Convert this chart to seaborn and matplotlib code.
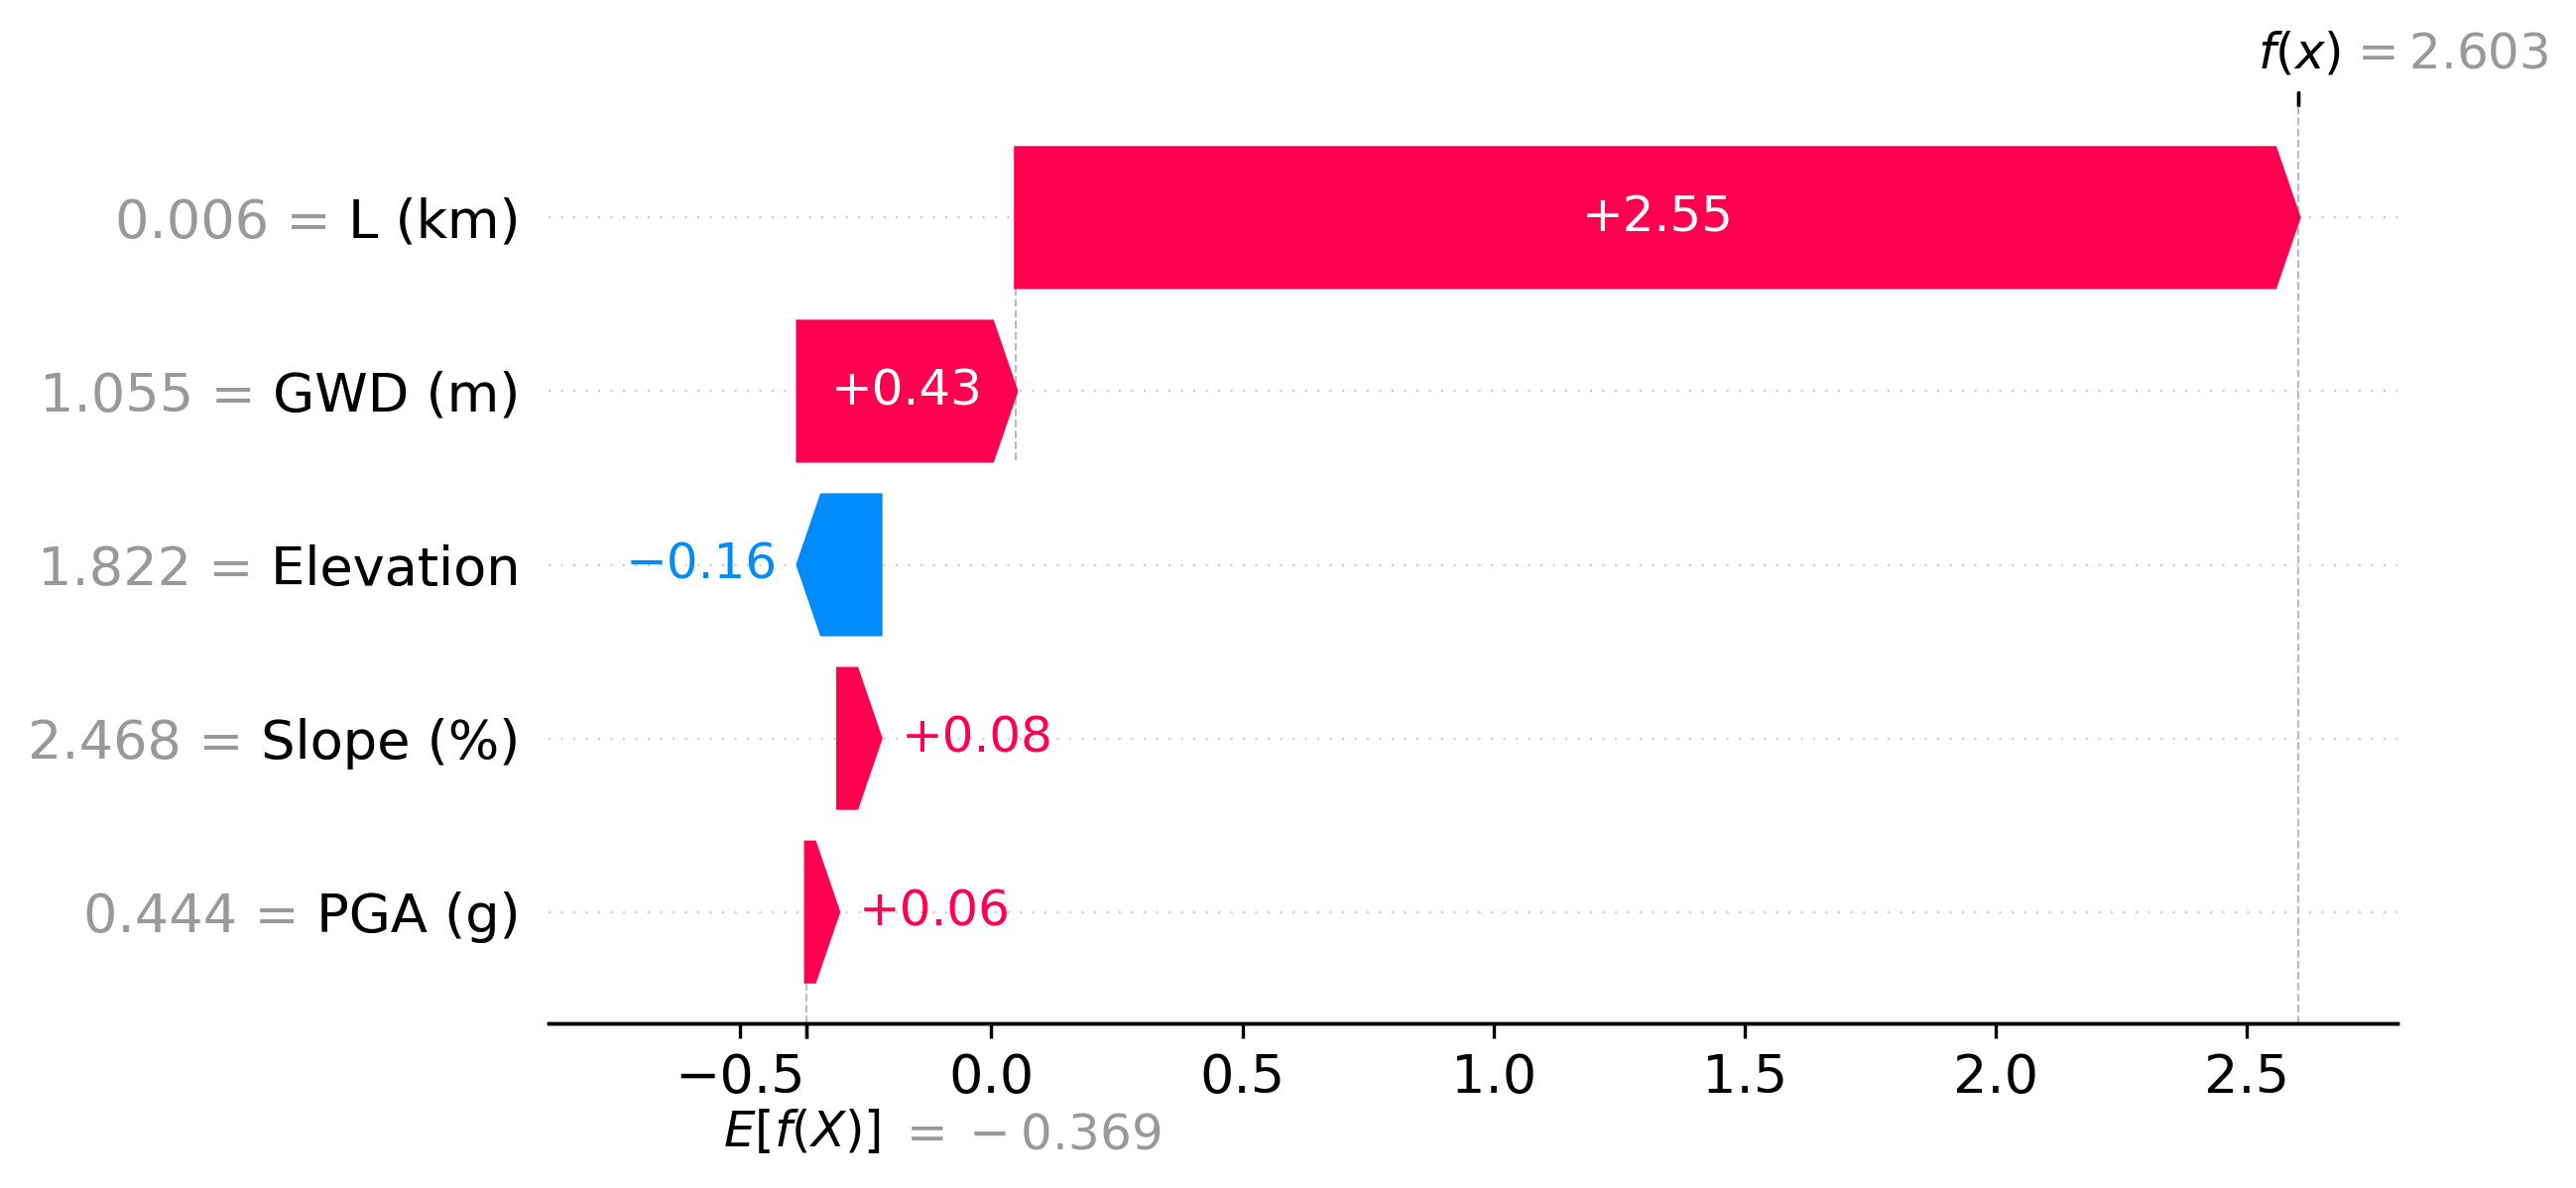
import re
import numpy as np
import matplotlib
matplotlib.use("Agg")
import matplotlib.pyplot as plt
import matplotlib.transforms as mtransforms
import seaborn as sns

# SHAP waterfall data, listed top row to bottom row
features = ["L (km)", "GWD (m)", "Elevation", "Slope (%)", "PGA (g)"]
feature_values = [0.006, 1.055, 1.822, 2.468, 0.444]
shap_values = [2.554, 0.434, -0.164, 0.084, 0.064]
base_value = -0.369

RED = "#ff0051"
BLUE = "#008bfb"


def format_value(v, fmt):
    s = fmt % v
    s = re.sub(r"\.?0+$", "", s)
    if s[0] == "-":
        s = "\u2212" + s[1:]
    return s


def math_value(v, fmt):
    # spaced-out minus like the older mathtext rendering
    s = format_value(v, fmt)
    if s[0] == "\u2212":
        s = "\u2212\\:" + s[1:]
    return s


sns.set_style("ticks")
plt.rcParams.update({
    "font.family": ["DejaVu Sans"],
    "text.color": "black",
    "axes.edgecolor": "black",
    "axes.labelcolor": "black",
    "xtick.color": "black",
    "ytick.color": "black",
    "axes.linewidth": 0.8,
    "xtick.major.size": 3.5,
    "xtick.major.width": 0.8,
})

fig = plt.figure(figsize=(2597 / 300, 1198 / 300), dpi=300)
ax = fig.add_axes([0.2131, 0.1388, 0.7177, 0.7716])

n = len(features)
rows = np.arange(n)[::-1]
fx = base_value + sum(shap_values)

# starting point of each arrow (walking back from f(x))
starts = fx - np.cumsum(shap_values)
pos = [i for i in range(n) if shap_values[i] >= 0]
neg = [i for i in range(n) if shap_values[i] < 0]

points = list(starts) + list(starts + np.array(shap_values))
dataw = max(points) - min(points)

# invisible bars, only used to size the x axis
pw = np.array([shap_values[i] for i in pos])
pad = np.array([0.1 * dataw if w < 1 else 0 for w in pw])
ax.barh(rows[pos], pw + pad + 0.02 * dataw, left=starts[pos] - 0.01 * dataw, alpha=0)
nw = np.array([shap_values[i] for i in neg])
pad = np.array([-0.1 * dataw if -w < 1 else 0 for w in nw])
ax.barh(rows[neg], nw + pad - 0.02 * dataw, left=starts[neg] + 0.01 * dataw, alpha=0)

# connector from the top bar down to the next one
ax.plot([starts[0], starts[0]], [rows[0] - 1 - 0.4, rows[0] + 0.4],
        color="#bbbbbb", linestyle="--", linewidth=0.5, zorder=-1)

xmin, xmax = ax.get_xlim()
ax.set_xlim(xmin, xmax)
renderer = fig.canvas.get_renderer()
bbox = ax.get_window_extent().transformed(fig.dpi_scale_trans.inverted())
scale = (xmax - xmin) / bbox.width
hl = 0.08 * scale
bar_width = 0.8

for i in range(n):
    s = shap_values[i]
    label = format_value(s, "%+0.02f")
    if s >= 0:
        arr = ax.arrow(starts[i], rows[i], max(s - hl, 1e-6), 0,
                       head_length=min(s, hl), color=RED,
                       width=bar_width, head_width=bar_width)
        txt = ax.text(starts[i] + 0.5 * s, rows[i], label, ha="center",
                      va="center", color="white", fontsize=12)
        if txt.get_window_extent(renderer).width > arr.get_window_extent(renderer).width:
            txt.remove()
            ax.text(starts[i] + (5 / 72) * scale + s, rows[i], label,
                    ha="left", va="center", color=RED, fontsize=12)
    else:
        arr = ax.arrow(starts[i], rows[i], -max(-s - hl, 1e-6), 0,
                       head_length=min(-s, hl), color=BLUE,
                       width=bar_width, head_width=bar_width)
        txt = ax.text(starts[i] + 0.5 * s, rows[i], label, ha="center",
                      va="center", color="white", fontsize=12)
        if txt.get_window_extent(renderer).width > arr.get_window_extent(renderer).width:
            txt.remove()
            ax.text(starts[i] - (5 / 72) * scale + s, rows[i], label,
                    ha="right", va="center", color=BLUE, fontsize=12)

# feature labels: gray "value = name" with the black name drawn on top
full_labels = [format_value(v, "%0.03f") + " = " + f for v, f in zip(feature_values, features)]
name_labels = [" " + f for f in features]
ax.set_yticks(list(rows) + list(rows + 1e-8))
ax.set_yticklabels(full_labels + name_labels, fontsize=13)
for i, t in enumerate(ax.yaxis.get_majorticklabels()):
    if i < n:
        t.set_color("#999999")

for r in rows:
    ax.axhline(r, color="#cccccc", lw=0.5, dashes=(1, 5), zorder=-1)

ax.axvline(base_value, 0, 1 / n, color="#bbbbbb", linestyle="--", linewidth=0.5, zorder=-1)
ax.axvline(fx, 0, 1, color="#bbbbbb", linestyle="--", linewidth=0.5, zorder=-1)

ax.xaxis.set_ticks_position("bottom")
ax.yaxis.set_ticks_position("none")
sns.despine(ax=ax, left=True)
ax.tick_params(labelsize=13)

# E[f(X)] marker on the bottom
ax2 = ax.twiny()
ax2.set_xlim(xmin, xmax)
ax2.set_xticks([base_value, base_value + 1e-8])
ax2.set_xticklabels(["\n$E[f(X)]$", "\n$ = \\:" + math_value(base_value, "%0.03f") + "$"],
                    fontsize=12, ha="left")
for sp in ["right", "top", "left"]:
    ax2.spines[sp].set_visible(False)

# f(x) marker on the top
ax3 = ax2.twiny()
ax3.set_xlim(xmin, xmax)
ax3.set_xticks([fx, fx + 1e-8])
ax3.set_xticklabels(["$f(x)$", "$ = " + math_value(fx, "%0.03f") + "$"],
                    fontsize=12, ha="left")
tl = ax3.xaxis.get_majorticklabels()
tl[0].set_transform(tl[0].get_transform() + mtransforms.ScaledTranslation(-10 / 72, 0, fig.dpi_scale_trans))
tl[1].set_transform(tl[1].get_transform() + mtransforms.ScaledTranslation(12 / 72, 0, fig.dpi_scale_trans))
tl[1].set_color("#999999")
for sp in ["right", "top", "left"]:
    ax3.spines[sp].set_visible(False)

tl = ax2.xaxis.get_majorticklabels()
tl[0].set_transform(tl[0].get_transform() + mtransforms.ScaledTranslation(-20 / 72, 0, fig.dpi_scale_trans))
tl[1].set_transform(tl[1].get_transform() + mtransforms.ScaledTranslation(22 / 72, -1 / 72, fig.dpi_scale_trans))
tl[1].set_color("#999999")

fig.savefig("out.png", dpi=300)
